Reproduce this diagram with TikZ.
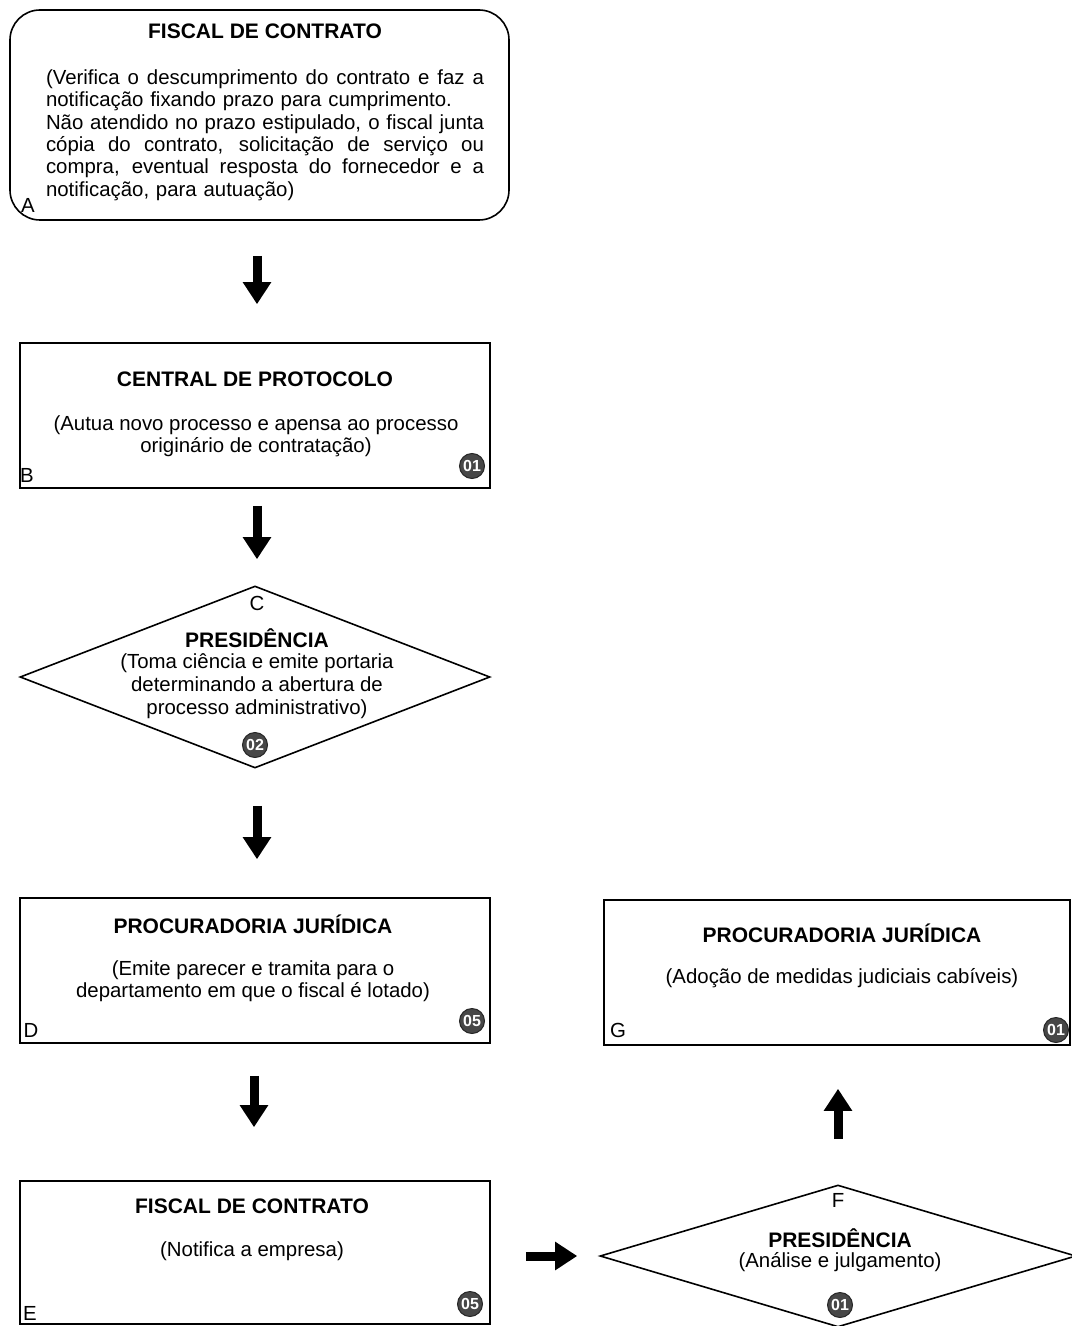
\documentclass[tikz,border=0pt]{standalone}
\usepackage{fontspec}
\setmainfont{Liberation Sans}
\usetikzlibrary{shapes.geometric,arrows.meta}

% one justified line of the given width: the word spaces share the slack
\newcommand{\jline}[1]{\leavevmode\hbox to 219pt{\spaceskip=0.25em plus 1fil\relax #1}}

\tikzset{
  box/.style={draw, line width=0.8pt, inner sep=0pt, minimum width=235pt, minimum height=72.5pt},
  rbox/.style={box, rounded corners=15pt},
  dia/.style={draw, diamond, line width=0.8pt, inner sep=0pt},
  title/.style={font=\bfseries\fontsize{10.5}{12}\selectfont, inner sep=0pt},
  body/.style={font=\fontsize{10.2}{11.2}\selectfont, align=center, inner sep=0pt},
  tag/.style={font=\fontsize{10.2}{12}\selectfont, inner sep=0pt},
  badge/.style={circle, fill=black!72, draw=black!85, line width=0.5pt, text=white,
    font=\bfseries\fontsize{8}{8}\selectfont, inner sep=0pt, minimum size=12.5pt},
  flow/.style={line width=4.5pt, -{Triangle[width=13.5pt,length=11pt]}}
}

\begin{document}
\begin{tikzpicture}[x=0.5pt,y=-0.5pt]
\useasboundingbox (0,0) rectangle (1071,1326);

% boxes and decisions
\node[rbox, minimum width=249.5pt, minimum height=105pt] (A) at (259.5,115) {};
\node[box] (B) at (255,415.5) {};
\node[dia, minimum width=235pt, minimum height=91pt] (C) at (255,677) {};
\node[box] (D) at (255,970.5) {};
\node[box, minimum height=71.5pt] (E) at (255,1252.5) {};
\node[dia, minimum width=238pt, minimum height=71pt] (F) at (838,1256) {};
\node[box, minimum width=233pt] (G) at (837,972.5) {};

% A: contract inspector
\node[title] (At) at (265,31) {FISCAL DE CONTRATO};
\node[body, text width=219pt, align=left] (Ab) at (265,135) {%
\jline{(Verifica o descumprimento do contrato e faz a}\\
notificação fixando prazo para cumprimento.\\
\jline{Não atendido no prazo estipulado, o fiscal junta}\\
\jline{cópia do contrato, solicitação de serviço ou}\\
\jline{compra, eventual resposta do fornecedor e a}\\
notificação, para autuação)};
\node[tag] (Al) at (28,205) {A};

% B: protocol office
\node[title] (Bt) at (255,379) {CENTRAL DE PROTOCOLO};
\node[body, font=\fontsize{10.2}{11}\selectfont] (Bb) at (256,436) {(Autua novo processo e apensa ao processo\\originário de contratação)};
\node[tag] (Bl) at (27,475) {B};
\node[badge] (Bn) at (472,466) {01};

% C: presidency decision
\node[tag] (Cl) at (257,603) {C};
\node[title] (Ct) at (257,638) {PRESIDÊNCIA};
\node[body, font=\fontsize{10.2}{11.6}\selectfont] (Cb) at (257,686) {(Toma ciência e emite portaria\\determinando a abertura de\\processo administrativo)};
\node[badge] (Cn) at (255,745) {02};

% D: legal office
\node[title] (Dt) at (253,924) {PROCURADORIA JURÍDICA};
\node[body, font=\fontsize{10.2}{11}\selectfont] (Db) at (253,981) {(Emite parecer e tramita para o\\departamento em que o fiscal é lotado)};
\node[tag] (Dl) at (31,1030) {D};
\node[badge] (Dn) at (472,1021) {05};

% E: contract inspector notifies
\node[title] (Et) at (252,1206) {FISCAL DE CONTRATO};
\node[body] (Eb) at (252,1251) {(Notifica a empresa)};
\node[tag] (El) at (30,1313) {E};
\node[badge] (En) at (470,1304) {05};

% F: presidency judgement
\node[tag] (Fl) at (838,1200) {F};
\node[title] (Ft) at (840,1238) {PRESIDÊNCIA};
\node[body] (Fb) at (840,1262) {(Análise e julgamento)};
\node[badge] (Fn) at (840,1305) {01};

% G: legal measures
\node[title] (Gt) at (842,933) {PROCURADORIA JURÍDICA};
\node[body] (Gb) at (842,978) {(Adoção de medidas judiciais cabíveis)};
\node[tag] (Gl) at (618,1030) {G};
\node[badge] (Gn) at (1056,1030) {01};

% flow arrows
\draw[flow, shorten <=17.5pt, shorten >=19pt] ([xshift=-1.25pt]A.south) -- ([xshift=-1.25pt]A.south |- B.north);
\draw[flow, shorten <=8.5pt, shorten >=13pt] ([xshift=1pt]B.south) -- ([xshift=1pt]B.south |- C.north);
\draw[flow, shorten <=18.5pt, shorten >=19pt] ([xshift=1pt]C.south) -- ([xshift=1pt]C.south |- D.north);
\draw[flow, shorten <=16pt, shorten >=26.5pt] ([xshift=-0.5pt]D.south) -- ([xshift=-0.5pt]D.south |- E.north);
\draw[flow, shorten <=17.5pt, shorten >=11pt] (E.east |- F.west) -- (F.west);
\draw[flow, shorten <=22.5pt, shorten >=21.5pt] (F.north) -- (F.north |- G.south);
\end{tikzpicture}
\end{document}
